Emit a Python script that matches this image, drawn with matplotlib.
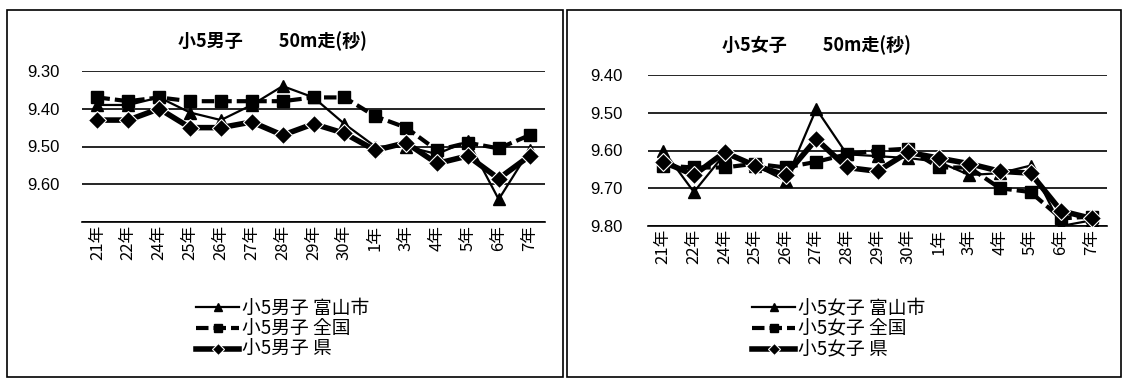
import matplotlib
matplotlib.use("Agg")
import matplotlib.pyplot as plt
from matplotlib.patches import Rectangle

plt.rcParams['font.family'] = ['Liberation Sans', 'Noto Sans CJK JP', 'DejaVu Sans']

categories = ['21年', '22年', '24年', '25年', '26年', '27年', '28年', '29年', '30年',
              '1年', '3年', '4年', '5年', '6年', '7年']

boys_toyama = [9.39, 9.39, 9.37, 9.41, 9.43, 9.39, 9.34, 9.37, 9.44, 9.50, 9.50, 9.52, 9.485, 9.64, 9.51]
boys_national = [9.37, 9.38, 9.37, 9.38, 9.38, 9.38, 9.38, 9.37, 9.37, 9.42, 9.45, 9.51, 9.49, 9.505, 9.47]
boys_pref = [9.43, 9.43, 9.40, 9.45, 9.45, 9.435, 9.47, 9.44, 9.465, 9.51, 9.49, 9.545, 9.525, 9.585, 9.525]

girls_toyama = [9.60, 9.71, 9.61, 9.64, 9.68, 9.49, 9.61, 9.615, 9.62, 9.63, 9.665, 9.66, 9.64, 9.80, 9.785]
girls_national = [9.64, 9.645, 9.645, 9.635, 9.645, 9.63, 9.61, 9.60, 9.595, 9.645, 9.645, 9.70, 9.71, 9.78, 9.775]
girls_pref = [9.63, 9.665, 9.605, 9.64, 9.665, 9.57, 9.645, 9.655, 9.605, 9.62, 9.635, 9.655, 9.66, 9.76, 9.78]

boys_ticks = [9.30, 9.40, 9.50, 9.60, 9.70]
boys_ticklabels = ['9.30', '9.40', '9.50', '9.60', '']
girls_ticks = [9.40, 9.50, 9.60, 9.70, 9.80]
girls_ticklabels = ['9.40', '9.50', '9.60', '9.70', '9.80']

boys_title = '小5男子　　50m走(秒)'
girls_title = '小5女子　　50m走(秒)'
boys_names = ['小5男子 富山市', '小5男子 全国', '小5男子 県']
girls_names = ['小5女子 富山市', '小5女子 全国', '小5女子 県']

W, H = 1126, 382
fig = plt.figure(figsize=(W / 100, H / 100), dpi=100)

# panel borders
for (x0, x1) in [(7, 563), (567, 1121)]:
    fig.patches.append(Rectangle((x0 / W, 1 - 377 / H), (x1 - x0) / W, (377 - 10) / H,
                                 transform=fig.transFigure, fill=False, edgecolor='black', lw=1.2))


def panel(rect, title, title_xy, ticks, ticklabels, toyama, national, pref, names, leg_xy, ypad):
    ax = fig.add_axes([rect[0] / W, 1 - rect[3] / H, (rect[2] - rect[0]) / W, (rect[3] - rect[1]) / H])
    x = list(range(len(categories)))
    l1, = ax.plot(x, toyama, color='black', lw=1.6, marker='^', markersize=8,
                  markerfacecolor='black', zorder=3)
    l2, = ax.plot(x, national, color='black', lw=3, ls=(0, (3, 1.2)), marker='s', markersize=9,
                  markerfacecolor='black', zorder=4)
    l3, = ax.plot(x, pref, color='black', lw=4, marker='D', markersize=9,
                  markerfacecolor='black', markeredgecolor='white', markeredgewidth=0.8, zorder=5)
    ax.set_xlim(-0.5, len(categories) - 0.5)
    ax.set_ylim(ticks[-1], ticks[0])
    ax.set_yticks(ticks)
    ax.set_yticklabels(ticklabels, fontsize=12)
    ax.set_xticks(x)
    ax.set_xticklabels(categories, rotation=90, fontsize=12, family=['Noto Sans CJK JP'])
    ax.tick_params(axis='y', length=0, pad=ypad)
    ax.tick_params(axis='x', length=0, pad=2)
    ax.grid(axis='y', color='black', lw=1.2)
    for s in ['top', 'right', 'left']:
        ax.spines[s].set_visible(False)
    ax.spines['bottom'].set_linewidth(1.2)
    ax.set_axisbelow(True)
    fig.text(title_xy[0] / W, 1 - title_xy[1] / H, title, ha='center', va='center',
             fontsize=13, fontweight='bold', family=['Noto Sans CJK JP'])
    fig.legend([l1, l2, l3], names, loc='upper left',
               bbox_to_anchor=(leg_xy[0] / W, 1 - leg_xy[1] / H), frameon=False,
               prop={'family': ['Noto Sans CJK JP'], 'size': 13.5}, markerscale=0.65,
               handlelength=2.3, handletextpad=0.15, labelspacing=-0.02, borderpad=0, borderaxespad=0)
    return ax


panel((82, 71, 545, 222), boys_title, (272, 41), boys_ticks, boys_ticklabels,
      boys_toyama, boys_national, boys_pref, boys_names, (196, 298), 16)
panel((648, 75, 1107, 226), girls_title, (816, 45), girls_ticks, girls_ticklabels,
      girls_toyama, girls_national, girls_pref, girls_names, (752, 298), 18)

fig.savefig('out.png', dpi=100)
